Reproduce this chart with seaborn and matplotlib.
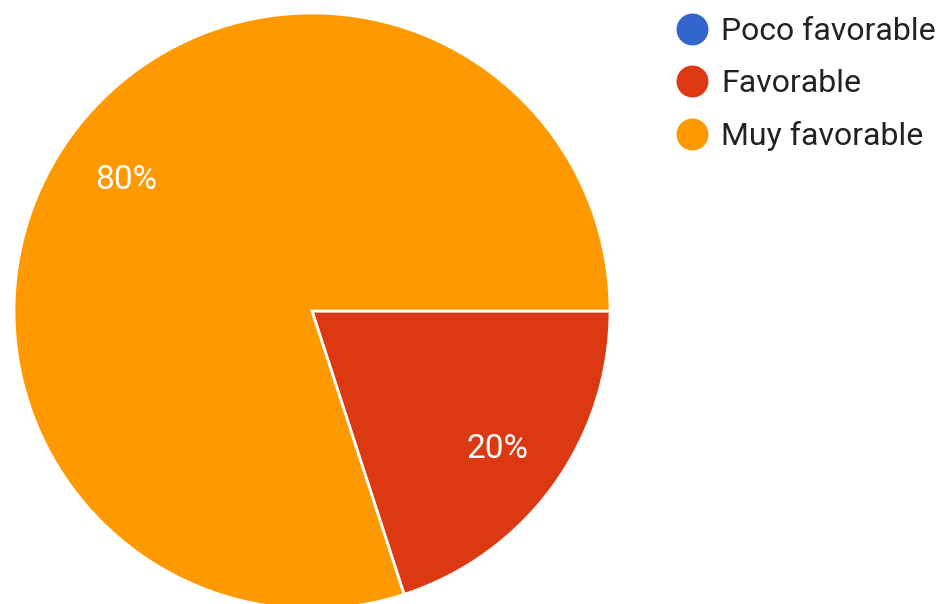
import matplotlib
matplotlib.use('Agg')
import matplotlib.pyplot as plt
from matplotlib.lines import Line2D
import seaborn as sns

categories = ['Poco favorable', 'Favorable', 'Muy favorable']
values = [0, 20, 80]
colors = ['#3366cc', '#dc3912', '#ff9900']

sns.set_theme(style='white')
plt.rcParams['font.family'] = ['Roboto', 'DejaVu Sans']

W, H = 948, 604
fig = plt.figure(figsize=(W / 100, H / 100), dpi=100)
cx, cy, r = 312, 311, 298
ax = fig.add_axes([(cx - r) / W, (H - cy - r) / H, 2 * r / W, 2 * r / H])

palette = sns.color_palette(colors)


def fmt(p):
    return '' if p < 0.5 else f'{p:.0f}%'


wedges, texts, autotexts = ax.pie(
    values, colors=palette, startangle=0, counterclock=False,
    autopct=fmt, pctdistance=0.77, radius=1,
    wedgeprops=dict(edgecolor='white', linewidth=2),
    textprops=dict(color='white', fontsize=24),
)
for t in autotexts:
    t.set_verticalalignment('center_baseline')
ax.set_xlim(-1, 1)
ax.set_ylim(-1, 1)
ax.set_aspect('auto')
ax.axis('off')

handles = [Line2D([0], [0], marker='o', linestyle='none', markersize=22,
                  markerfacecolor=c, markeredgecolor=c) for c in colors]
fig.legend(handles, categories, loc='upper left', bbox_to_anchor=(673 / W, 1 - 17 / H),
           frameon=False, fontsize=23, handletextpad=0.3, labelspacing=0.72,
           borderpad=0, borderaxespad=0, labelcolor='#222222', handlelength=1.2)

fig.savefig('out.png', dpi=100)
